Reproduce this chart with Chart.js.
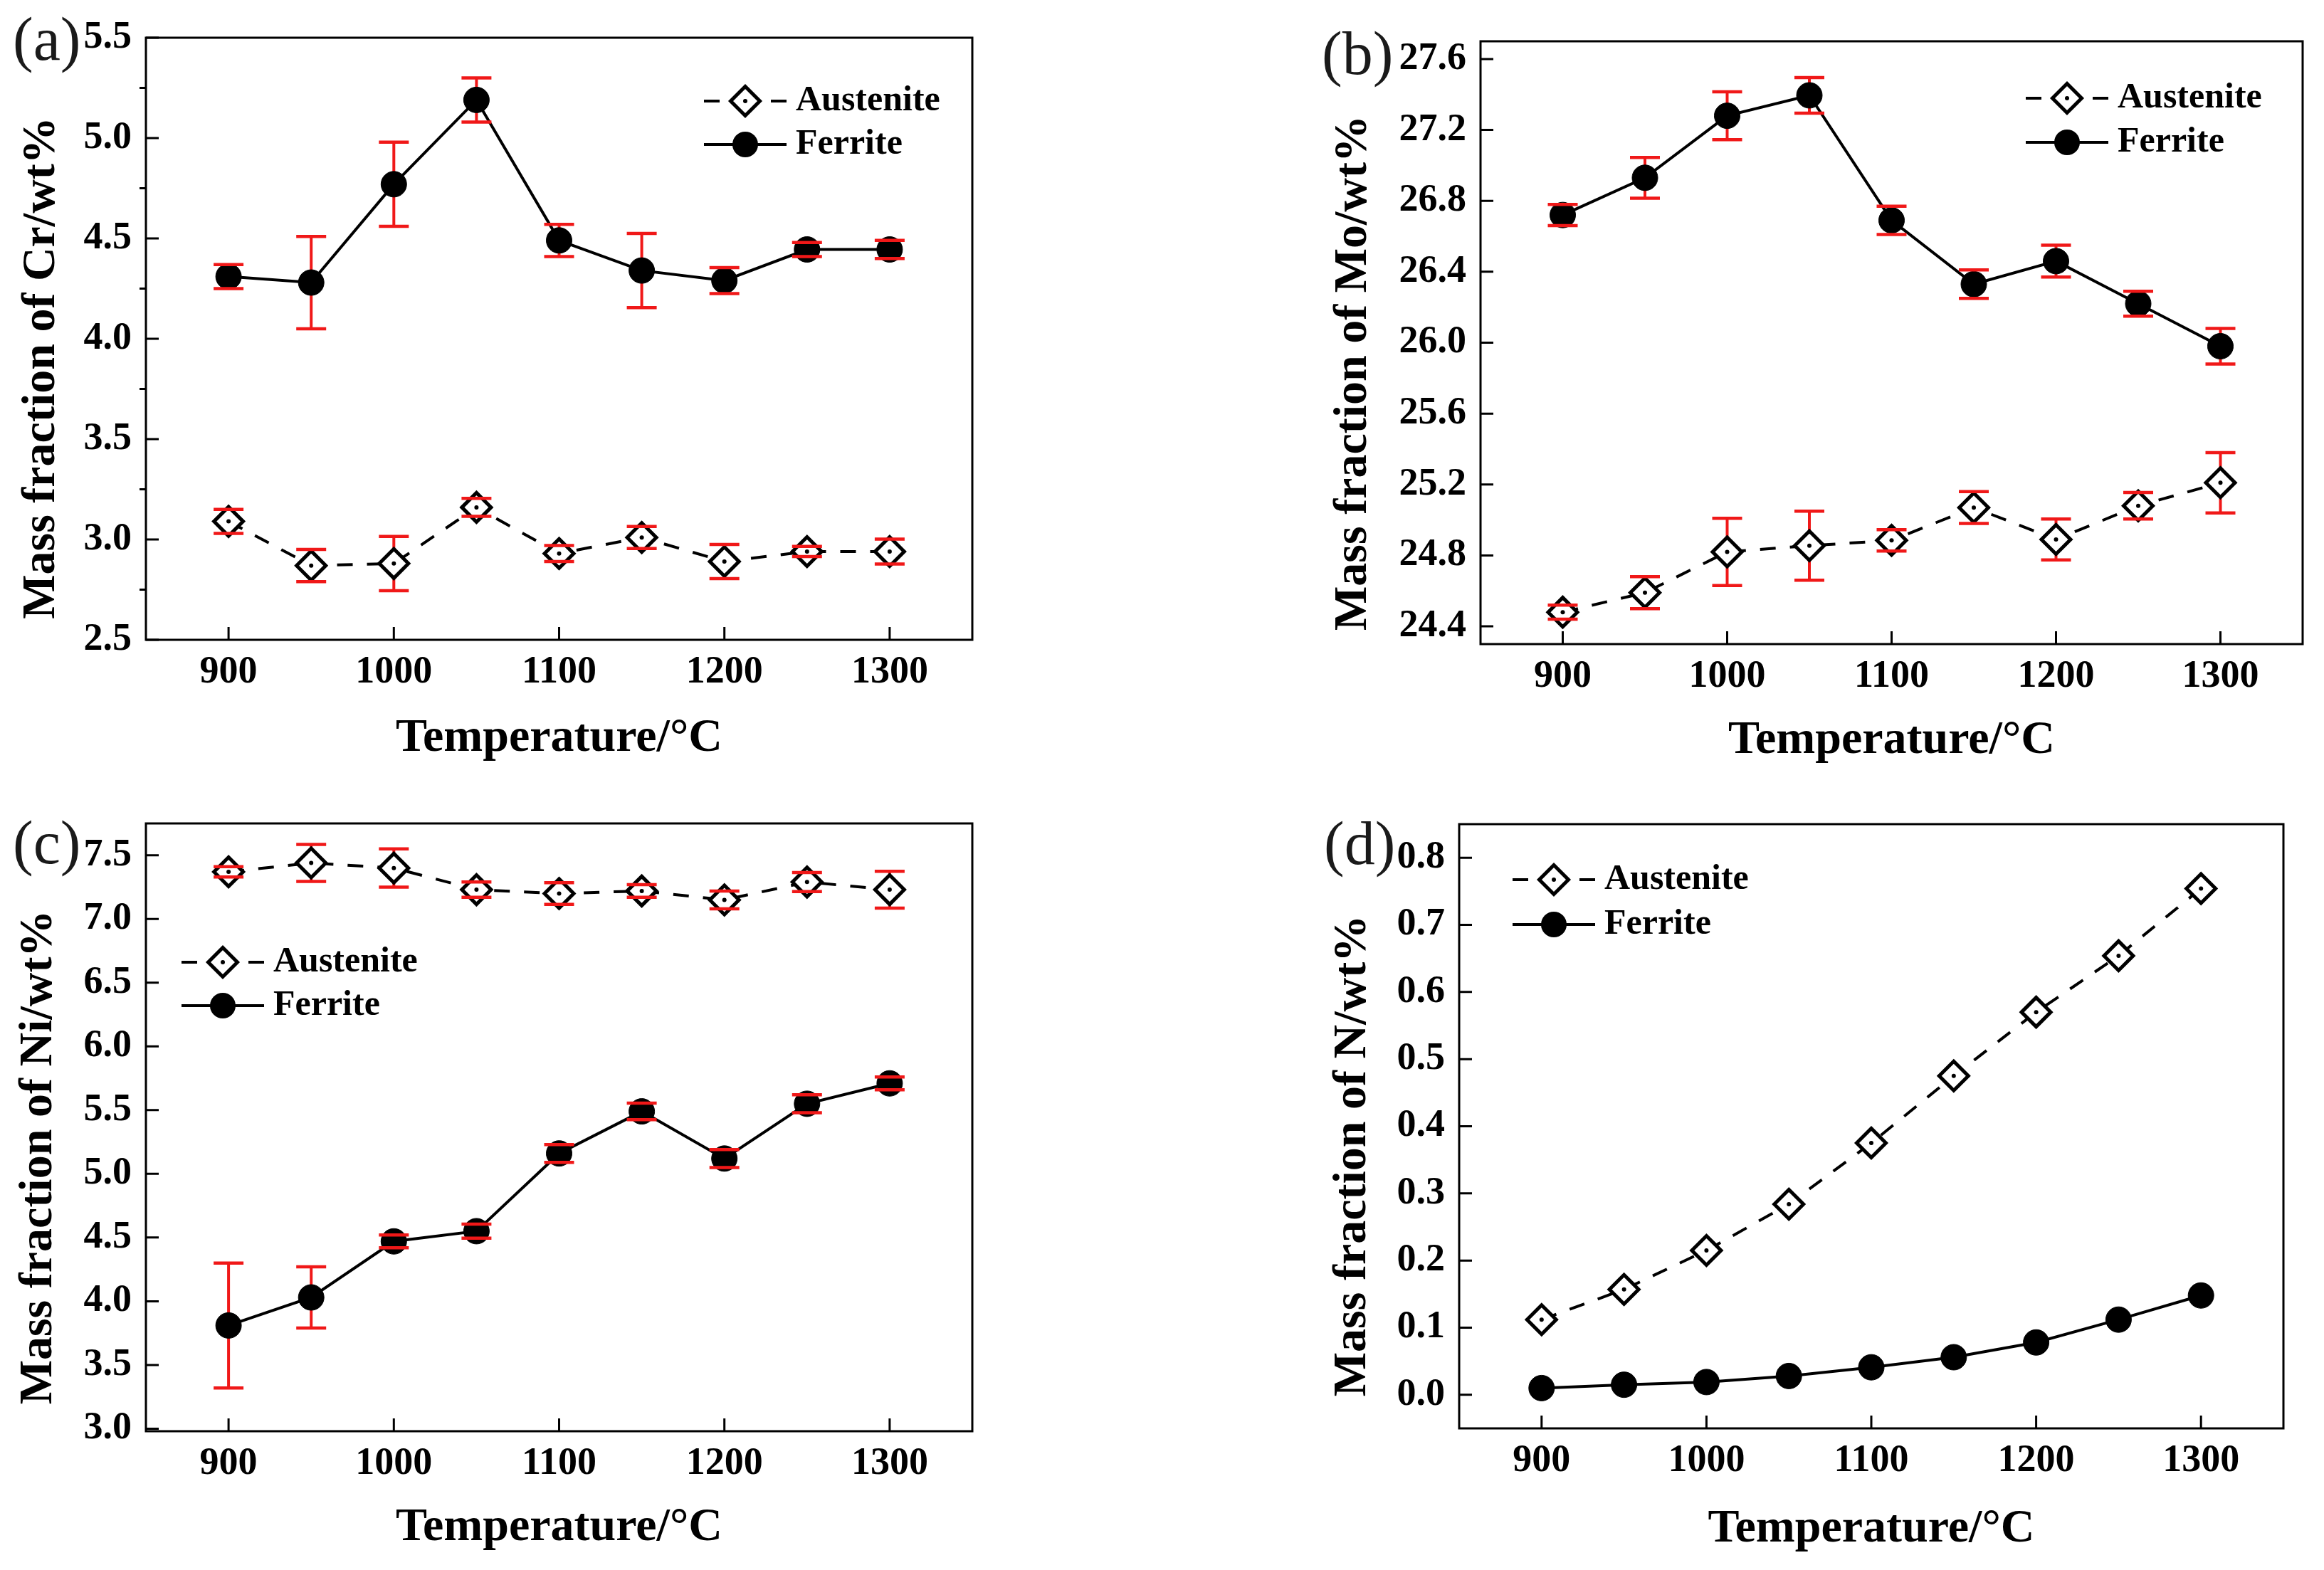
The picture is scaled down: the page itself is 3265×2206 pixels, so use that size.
<!DOCTYPE html>
<html>
<head>
<meta charset="utf-8">
<script src="https://cdn.jsdelivr.net/npm/chart.js@4.4.1/dist/chart.umd.min.js"></script>
<style>
body{margin:0;background:#fff;}
#wrap{position:relative;width:3265px;height:2206px;background:#fff;overflow:hidden;}
</style>
</head>
<body>
<div id="wrap"></div>
<script>
// temperatures (x) shared by all four panels
var temps=[900,950,1000,1050,1100,1150,1200,1250,1300];
var xTicks=[900,1000,1100,1200,1300];
var xTickLabels=['900','1000','1100','1200','1300'];

// (a) Cr
var crAus=[3.09,2.87,2.88,3.16,2.93,3.01,2.89,2.94,2.94];
var crAusErr=[0.06,0.08,0.135,0.045,0.04,0.055,0.085,0.025,0.062];
var crFer=[4.31,4.28,4.77,5.19,4.49,4.34,4.29,4.445,4.445];
var crFerErr=[0.06,0.23,0.21,0.11,0.08,0.185,0.065,0.035,0.045];
var crTicks=[2.5,3.0,3.5,4.0,4.5,5.0,5.5];
var crTickLabels=['2.5','3.0','3.5','4.0','4.5','5.0','5.5'];

// (b) Mo
var moAus=[24.48,24.59,24.82,24.855,24.885,25.07,24.89,25.08,25.21];
var moAusErr=[0.04,0.09,0.19,0.195,0.06,0.09,0.115,0.075,0.17];
var moFer=[26.72,26.93,27.28,27.395,26.69,26.33,26.46,26.22,25.98];
var moFerErr=[0.06,0.115,0.135,0.1,0.08,0.08,0.09,0.07,0.1];
var moTicks=[24.4,24.8,25.2,25.6,26.0,26.4,26.8,27.2,27.6];
var moTickLabels=['24.4','24.8','25.2','25.6','26.0','26.4','26.8','27.2','27.6'];

// (c) Ni
var niAus=[7.37,7.44,7.40,7.23,7.20,7.22,7.15,7.29,7.23];
var niAusErr=[0.04,0.145,0.15,0.06,0.085,0.05,0.07,0.075,0.145];
var niFer=[3.81,4.03,4.47,4.55,5.16,5.49,5.12,5.55,5.71];
var niFerErr=[0.49,0.24,0.05,0.055,0.07,0.065,0.07,0.07,0.05];
var niTicks=[3.0,3.5,4.0,4.5,5.0,5.5,6.0,6.5,7.0,7.5];
var niTickLabels=['3.0','3.5','4.0','4.5','5.0','5.5','6.0','6.5','7.0','7.5'];

// (d) N
var nAus=[0.112,0.157,0.215,0.284,0.375,0.475,0.570,0.654,0.754];
var nFer=[0.010,0.015,0.019,0.028,0.041,0.056,0.078,0.112,0.148];
var nTicks=[0.0,0.1,0.2,0.3,0.4,0.5,0.6,0.7,0.8];
var nTickLabels=['0.0','0.1','0.2','0.3','0.4','0.5','0.6','0.7','0.8'];

var seriesNames=['Austenite','Ferrite'];
var xTitle='Temperature/\u00B0C';

var FONT='"Liberation Serif","Times New Roman",serif';
var RED='#f01818';

// page layout of each panel (canvas box, plot area, text spots)
var panels=[
	{canvas:[0,0,1632,1103],area:[205,53,1366,899],ymin:2.5,ymax:5.5,yTicks:crTicks,yLabels:crTickLabels,
	 aus:crAus,ausErr:crAusErr,fer:crFer,ferErr:crFerErr,minor:true,
	 tag:'(a)',tagPos:[18,84],yTitle:'Mass fraction of Cr/wt%',yTitlePos:[59,517],xTitleY:1038,legend:[989,142,203]},
	{canvas:[1632,0,1633,1103],area:[2080,58,3235,905],ymin:24.3,ymax:27.7,yTicks:moTicks,yLabels:moTickLabels,
	 aus:moAus,ausErr:moAusErr,fer:moFer,ferErr:moFerErr,minor:false,
	 tag:'(b)',tagPos:[1857,104],yTitle:'Mass fraction of Mo/wt%',yTitlePos:[1902,524],xTitleY:1041,legend:[2846,138,200]},
	{canvas:[0,1103,1632,1103],area:[205,1157,1366,2011],ymin:2.98,ymax:7.75,yTicks:niTicks,yLabels:niTickLabels,
	 aus:niAus,ausErr:niAusErr,fer:niFer,ferErr:niFerErr,minor:false,
	 tag:'(c)',tagPos:[18,1213],yTitle:'Mass fraction of Ni/wt%',yTitlePos:[55,1626],xTitleY:2147,legend:[255,1352,1413]},
	{canvas:[1632,1103,1633,1103],area:[2050,1158,3208,2007],ymin:-0.05,ymax:0.85,yTicks:nTicks,yLabels:nTickLabels,
	 aus:nAus,ausErr:null,fer:nFer,ferErr:null,minor:false,
	 tag:'(d)',tagPos:[1860,1214],yTitle:'Mass fraction of N/wt%',yTitlePos:[1901,1624],xTitleY:2149,legend:[2125,1236,1299]}
];

function toPoints(vals){
	var out=[];
	for(var i=0;i<temps.length;i++){
		out.push({x:temps[i],y:vals[i]});
	}
	return out;
}

function makeDeco(p){
	var ox=p.canvas[0], oy=p.canvas[1];
	function bars(){
		var list=[];
		if(p.ausErr) list.push({ds:0,val:p.aus,err:p.ausErr});
		if(p.ferErr) list.push({ds:1,val:p.fer,err:p.ferErr});
		return list;
	}
	return {
		id:'deco',
		beforeDatasetsDraw:function(chart){
			var ctx=chart.ctx, ys=chart.scales.y;
			ctx.save();
			ctx.strokeStyle=RED;
			ctx.lineWidth=4;
			bars().forEach(function(b){
				var meta=chart.getDatasetMeta(b.ds);
				for(var i=0;i<meta.data.length;i++){
					var px=meta.data[i].x;
					ctx.beginPath();
					ctx.moveTo(px,ys.getPixelForValue(b.val[i]+b.err[i]));
					ctx.lineTo(px,ys.getPixelForValue(b.val[i]-b.err[i]));
					ctx.stroke();
				}
			});
			ctx.restore();
		},
		afterDatasetsDraw:function(chart){
			var ctx=chart.ctx, ys=chart.scales.y, xs=chart.scales.x, ca=chart.chartArea;
			ctx.save();
			//dots in the middle of the diamonds
			var am=chart.getDatasetMeta(0);
			ctx.fillStyle='#000';
			for(var i=0;i<am.data.length;i++){
				ctx.beginPath();
				ctx.arc(am.data[i].x,am.data[i].y,3,0,Math.PI*2);
				ctx.fill();
			}
			//error caps on top
			ctx.strokeStyle=RED;
			ctx.lineWidth=4.5;
			bars().forEach(function(b){
				var meta=chart.getDatasetMeta(b.ds);
				for(var i=0;i<meta.data.length;i++){
					var px=meta.data[i].x;
					[b.val[i]+b.err[i],b.val[i]-b.err[i]].forEach(function(v){
						var py=ys.getPixelForValue(v);
						ctx.beginPath();
						ctx.moveTo(px-21,py);
						ctx.lineTo(px+21,py);
						ctx.stroke();
					});
				}
			});

			//frame and ticks
			ctx.strokeStyle='#000';
			ctx.lineWidth=3;
			ctx.strokeRect(ca.left,ca.top,ca.right-ca.left,ca.bottom-ca.top);
			ctx.beginPath();
			p.yTicks.forEach(function(v){
				var py=ys.getPixelForValue(v);
				ctx.moveTo(ca.left,py);
				ctx.lineTo(ca.left+18,py);
			});
			xTicks.forEach(function(v){
				var px=xs.getPixelForValue(v);
				ctx.moveTo(px,ca.bottom);
				ctx.lineTo(px,ca.bottom-18);
			});
			if(p.minor){
				for(var k=0;k<p.yTicks.length-1;k++){
					var my=ys.getPixelForValue((p.yTicks[k]+p.yTicks[k+1])/2);
					ctx.moveTo(ca.left-9,my);
					ctx.lineTo(ca.left,my);
				}
			}
			ctx.stroke();

			//legend
			var lx=p.legend[0]-ox, r1=p.legend[1]-oy, r2=p.legend[2]-oy;
			ctx.lineWidth=4;
			ctx.beginPath();
			ctx.moveTo(lx,r1);ctx.lineTo(lx+22,r1);
			ctx.moveTo(lx+94,r1);ctx.lineTo(lx+116,r1);
			ctx.moveTo(lx,r2);ctx.lineTo(lx+116,r2);
			ctx.stroke();
			var cx=lx+58;
			ctx.beginPath();
			ctx.moveTo(cx-20.5,r1);ctx.lineTo(cx,r1-20.5);ctx.lineTo(cx+20.5,r1);ctx.lineTo(cx,r1+20.5);ctx.closePath();
			ctx.fillStyle='#fff';ctx.fill();
			ctx.lineWidth=5;ctx.stroke();
			ctx.fillStyle='#000';
			ctx.beginPath();ctx.arc(cx,r1,3,0,Math.PI*2);ctx.fill();
			ctx.beginPath();ctx.arc(cx,r2,18,0,Math.PI*2);ctx.fill();
			ctx.font='bold 50px '+FONT;
			ctx.textAlign='left';
			ctx.textBaseline='middle';
			ctx.fillText(seriesNames[0],lx+129,r1);
			ctx.fillText(seriesNames[1],lx+129,r2);

			//panel tag
			ctx.font='86px '+FONT;
			ctx.fillStyle='#1a1a1a';
			ctx.textBaseline='alphabetic';
			ctx.fillText(p.tag,p.tagPos[0]-ox,p.tagPos[1]-oy);

			//axis titles
			ctx.fillStyle='#000';
			ctx.font='bold 66px '+FONT;
			ctx.textAlign='center';
			ctx.textBaseline='middle';
			ctx.fillText(xTitle,(ca.left+ca.right)/2,p.xTitleY-oy);
			ctx.translate(p.yTitlePos[0]-ox,p.yTitlePos[1]-oy);
			ctx.rotate(-Math.PI/2);
			ctx.fillText(p.yTitle,0,0);
			ctx.restore();
		}
	};
}

function makeChart(p){
	var ox=p.canvas[0], oy=p.canvas[1], w=p.canvas[2], h=p.canvas[3];
	var c=document.createElement('canvas');
	c.width=w; c.height=h;
	c.style.cssText='position:absolute;left:'+ox+'px;top:'+oy+'px;width:'+w+'px;height:'+h+'px;';
	document.getElementById('wrap').appendChild(c);

	var yw=p.area[0]-ox;
	var xh=oy+h-p.area[3];

	new Chart(c.getContext('2d'),{
		type:'line',
		data:{
			datasets:[{
				label:seriesNames[0],
				data:toPoints(p.aus),
				borderColor:'#000',
				borderWidth:4,
				borderDash:[22,20],
				pointStyle:'rectRot',
				pointRadius:20.5,
				pointBorderWidth:5,
				pointBackgroundColor:'#fff',
				pointBorderColor:'#000',
				fill:false,
				tension:0
			},{
				label:seriesNames[1],
				data:toPoints(p.fer),
				borderColor:'#000',
				borderWidth:4,
				pointStyle:'circle',
				pointRadius:18,
				pointBorderWidth:1,
				pointBackgroundColor:'#000',
				pointBorderColor:'#000',
				fill:false,
				tension:0
			}]
		},
		options:{
			responsive:false,
			animation:false,
			devicePixelRatio:1,
			layout:{padding:{left:0,top:p.area[1]-oy,right:ox+w-p.area[2],bottom:0}},
			plugins:{legend:{display:false},tooltip:{enabled:false}},
			scales:{
				x:{
					type:'linear',min:850,max:1350,
					grid:{display:false,drawTicks:false},
					border:{display:false},
					ticks:{
						color:'#000',font:{family:FONT,size:54,weight:'bold'},padding:14,
						autoSkip:false,maxRotation:0,
						callback:function(v,i){return xTickLabels[i];}
					},
					afterBuildTicks:function(s){s.ticks=xTicks.map(function(v){return {value:v};});},
					afterFit:function(s){s.height=xh;}
				},
				y:{
					type:'linear',min:p.ymin,max:p.ymax,
					grid:{display:false,drawTicks:false},
					border:{display:false},
					ticks:{
						color:'#000',font:{family:FONT,size:54,weight:'bold'},padding:20,
						autoSkip:false,
						callback:function(v,i){return p.yLabels[i];}
					},
					afterBuildTicks:function(s){s.ticks=p.yTicks.map(function(v){return {value:v};});},
					afterFit:function(s){s.width=yw;}
				}
			}
		},
		plugins:[makeDeco(p)]
	});
}

for(var i=0;i<panels.length;i++){
	makeChart(panels[i]);
}
</script>
</body>
</html>
